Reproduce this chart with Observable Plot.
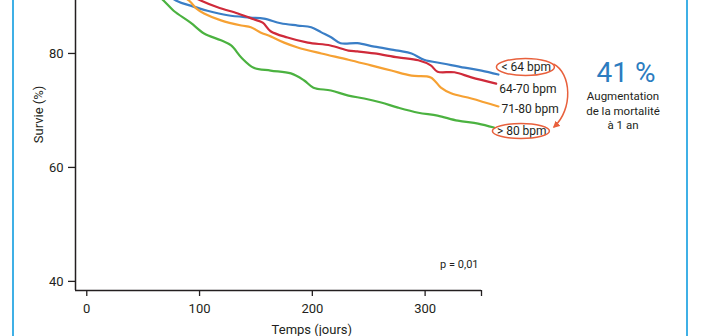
<!DOCTYPE html>
<html><head><meta charset="utf-8">
<script src="https://cdn.jsdelivr.net/npm/d3@7"></script>
<script src="https://cdn.jsdelivr.net/npm/@observablehq/plot@0.6"></script>
<style>
html,body{margin:0;padding:0;background:#fff;overflow:hidden}
#wrap{position:relative;width:702px;height:336px;overflow:hidden;font-family:Roboto,sans-serif}
.bar{position:absolute;top:0;width:2px;height:336px;background:#3fb0e6}
</style></head><body><div id="wrap"><div class="bar" style="left:12px"></div><div class="bar" style="left:686px"></div></div>
<script>
const seriesNames = ["< 64 bpm", "64-70 bpm", "71-80 bpm", "> 80 bpm"];
const seriesColors = ["#3a7ec6", "#cf2a3a", "#f6a133", "#4bb240"];
const xTicks = [0, 100, 200, 300];
const yTicks = [40, 60, 80];
const pText = "p = 0,01";
const bigText = "41 %";
const noteLines = ["Augmentation", "de la mortalité", "à 1 an"];

const lt64Days = [0, 40, 79, 92, 107, 125, 145, 157, 172, 187, 199, 208, 217, 225, 240, 255, 276, 288, 299, 317, 335, 350, 365];
const lt64Surv = [100, 95, 89.3, 88.4, 87.5, 86.7, 86.3, 86.1, 85.3, 84.9, 84.6, 83.7, 82.8, 81.8, 81.8, 81.2, 80.5, 80.0, 78.9, 78.2, 77.5, 77.0, 76.3];

const b6470Days = [0, 50, 101, 116, 134, 148, 156, 163, 178, 196, 216, 232, 240, 255, 276, 294, 305, 311, 326, 341, 363];
const b6470Surv = [100, 94.5, 89.3, 88.1, 87.0, 86.0, 85.4, 83.9, 82.8, 81.9, 81.4, 80.5, 80.35, 80.0, 79.3, 78.8, 77.9, 76.8, 76.7, 75.8, 74.7];

const b7180Days = [0, 45, 90.5, 97, 104, 119, 137, 145.5, 154, 163, 175, 187, 208, 232, 252, 270, 288, 305, 314, 323, 341, 365];
const b7180Surv = [100, 94.5, 89.3, 87.9, 87.0, 85.8, 84.9, 84.6, 83.7, 83.0, 81.9, 81.05, 80.0, 78.9, 77.9, 77.0, 76.1, 75.8, 74.0, 73.0, 72.1, 70.7];

const gt80Days = [0, 40, 68, 77, 92, 104, 119, 128, 137, 148, 163, 181, 192.5, 201, 216.5, 232, 246, 261, 276, 294, 311, 329, 347, 361];
const gt80Surv = [100, 94.5, 89.3, 87.5, 85.4, 83.5, 82.3, 81.4, 79.3, 77.5, 77.0, 76.5, 75.3, 74.0, 73.5, 72.6, 72.1, 71.4, 70.5, 69.6, 69.1, 68.2, 67.7, 67.0];

const dayArrays = [lt64Days, b6470Days, b7180Days, gt80Days];
const survArrays = [lt64Surv, b6470Surv, b7180Surv, gt80Surv];

const rows = [];
seriesNames.forEach((name, i) => {
  dayArrays[i].forEach((d, j) => rows.push({series: name, day: d, surv: survArrays[i][j]}));
});
const lastRows = seriesNames.map((name, i) => ({series: name, day: dayArrays[i].at(-1), surv: survArrays[i].at(-1), i}));
const labelDy = [-7, 5, 3, 4];

const ink = "#231f20";
const plot = Plot.plot({
  width: 702,
  height: 336,
  marginLeft: 75, marginRight: 221, marginTop: 0, marginBottom: 46,
  style: {fontFamily: "Roboto, sans-serif", color: ink, background: "transparent", overflow: "visible"},
  x: {domain: [-10, 350], range: [75, 481]},
  y: {domain: [38.4, 100], range: [290, -61]},
  marks: [
    Plot.ruleY([38.4], {x1: -10, x2: 350, stroke: ink, strokeWidth: 1.5}),
    Plot.ruleX([-10], {y1: 38.4, y2: 100, stroke: ink, strokeWidth: 1.5}),
    Plot.axisX({ticks: [...xTicks, 350], tickFormat: d => d === 350 ? "" : String(d), tickSize: 6, tickPadding: 7, fontSize: 13, label: null, stroke: ink, strokeWidth: 1.3}),
    Plot.axisY({ticks: yTicks, tickSize: 7, tickPadding: 5, fontSize: 13, label: null, stroke: ink, strokeWidth: 1.3}),
    Plot.line(rows, {x: "day", y: "surv", z: "series", stroke: d => seriesColors[seriesNames.indexOf(d.series)], strokeWidth: 2.2, curve: "catmull-rom"}),
    ...lastRows.map(r => Plot.text([r], {x: "day", y: "surv", text: "series", textAnchor: "start", dx: 3, dy: labelDy[r.i], fontSize: 12, fill: ink})),
    Plot.text([pText], {frameAnchor: "bottom-right", text: d => d, textAnchor: "end", dx: -3, dy: -23, fontSize: 11, fill: ink})
  ]
});
document.getElementById("wrap").appendChild(plot);

const svg = d3.select(plot);
const xs = plot.scale("x"), ys = plot.scale("y");
const x = v => xs.apply(v), y = v => ys.apply(v);

// axis titles
svg.append("text").attr("transform", `translate(43,${(y(100) + y(38.4)) / 2}) rotate(-90)`)
  .attr("text-anchor", "middle").attr("font-size", 13).attr("fill", ink).text("Survie (%)");
svg.append("text").attr("x", x(200)).attr("y", 334).attr("text-anchor", "middle")
  .attr("font-size", 13).attr("fill", ink).text("Temps (jours)");

// ellipses around first and last labels
const red = "#e8603c";
const lab = i => ({cx: x(lastRows[i].day) + 3 + 24.5, cy: y(lastRows[i].surv) + labelDy[i]});
const e0 = lab(0), e3 = lab(3);
svg.append("ellipse").attr("cx", e0.cx).attr("cy", e0.cy).attr("rx", 29).attr("ry", 8.5)
  .attr("fill", "none").attr("stroke", red).attr("stroke-width", 1.5);
svg.append("ellipse").attr("cx", e3.cx).attr("cy", e3.cy).attr("rx", 28.5).attr("ry", 7.5)
  .attr("fill", "none").attr("stroke", red).attr("stroke-width", 1.5);
svg.append("defs").append("marker").attr("id", "ah").attr("viewBox", "0 0 10 10")
  .attr("refX", 8).attr("refY", 5).attr("markerWidth", 7).attr("markerHeight", 7)
  .attr("orient", "auto").attr("markerUnits", "userSpaceOnUse")
  .append("path").attr("d", "M0,0L10,5L0,10Z").attr("fill", red);
svg.append("path")
  .attr("d", `M${e0.cx + 28},${e0.cy - 3} C${e0.cx + 46},${e0.cy + 6} ${e0.cx + 48},${e3.cy - 22} ${e3.cx + 33},${e3.cy - 4}`)
  .attr("fill", "none").attr("stroke", red).attr("stroke-width", 1.5).attr("marker-end", "url(#ah)");

// big annotation
svg.append("text").attr("x", 626).attr("y", 82).attr("text-anchor", "middle")
  .attr("font-size", 28).attr("fill", "#2b7cc0").text(bigText);
noteLines.forEach((t, i) => svg.append("text").attr("x", 623).attr("y", 100 + i * 14.5)
  .attr("text-anchor", "middle").attr("font-size", 11.5).attr("fill", ink).text(t));
</script></body></html>
